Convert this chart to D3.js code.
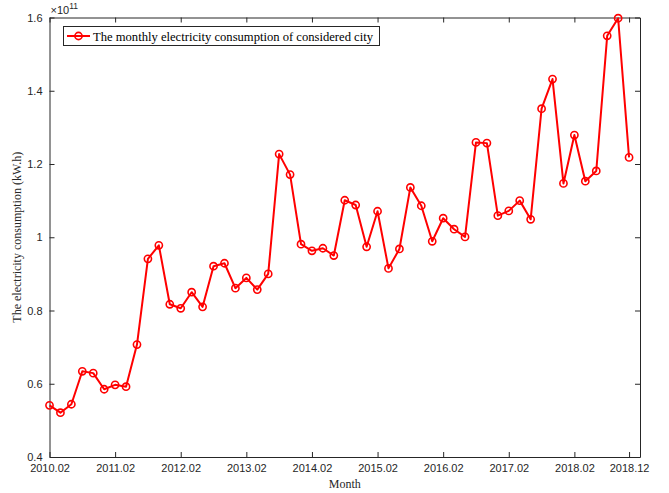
<!DOCTYPE html>
<html>
<head>
<meta charset="utf-8">
<script src="https://cdn.jsdelivr.net/npm/d3@7"></script>
<style>
  body { margin: 0; background: #fff; }
  svg { display: block; }
</style>
</head>
<body>
<svg id="chart" width="669" height="493"></svg>
<script>
// month index counted from 2010.02, one reading every two months
const months = d3.range(0, 107, 2);
const consumption = [
  0.541, 0.521, 0.544, 0.634, 0.629, 0.585, 0.597, 0.592, 0.707, 0.941,
  0.978, 0.817, 0.806, 0.850, 0.810, 0.921, 0.929, 0.861, 0.889, 0.857,
  0.900, 1.227, 1.171, 0.981, 0.963, 0.970, 0.950, 1.101, 1.088, 0.974,
  1.071, 0.915, 0.968, 1.136, 1.086, 0.989, 1.052, 1.022, 1.001, 1.259,
  1.257, 1.059, 1.072, 1.100, 1.049, 1.351, 1.432, 1.147, 1.279, 1.153,
  1.181, 1.550, 1.598, 1.218
]; // x 1e11 kW.h
const xTickMonths = [0, 12, 24, 36, 48, 60, 72, 84, 96, 106];
const xTickLabels = ["2010.02", "2011.02", "2012.02", "2013.02", "2014.02",
                     "2015.02", "2016.02", "2017.02", "2018.02", "2018.12"];
const yTicks = [0.4, 0.6, 0.8, 1.0, 1.2, 1.4, 1.6];

const data = months.map((m, i) => ({month: m, value: consumption[i]}));

const chart = d3.select("#chart");
const margin = {left: 49.5, right: 29, top: 17.5, bottom: 36};
const width = 669, height = 493;
const axisColor = "#262626";

const x = d3.scaleLinear().domain([0, 108]).range([margin.left, width - margin.right]);
const y = d3.scaleLinear().domain([0.4, 1.6]).range([height - margin.bottom, margin.top]);

const tickFmt = (d) => d === 1 ? "1" : d3.format(".1f")(d);

// bottom axis
const xAxis = d3.axisBottom(x).tickValues(xTickMonths)
  .tickFormat((d, i) => xTickLabels[i]).tickSizeInner(-5).tickSizeOuter(0).tickPadding(7);
const gx = chart.append("g")
  .attr("transform", `translate(0,${y.range()[0]})`)
  .call(xAxis);

// top ticks
const gxTop = chart.append("g")
  .attr("transform", `translate(0,${y.range()[1]})`)
  .call(d3.axisTop(x).tickValues(xTickMonths).tickFormat("").tickSizeInner(-5).tickSizeOuter(0));

// left axis
const gy = chart.append("g")
  .attr("transform", `translate(${x.range()[0]},0)`)
  .call(d3.axisLeft(y).tickValues(yTicks).tickFormat(tickFmt).tickSizeInner(-5).tickSizeOuter(0).tickPadding(7));

// right ticks
const gyRight = chart.append("g")
  .attr("transform", `translate(${x.range()[1]},0)`)
  .call(d3.axisRight(y).tickValues(yTicks).tickFormat("").tickSizeInner(-5).tickSizeOuter(0));

[gx, gxTop, gy, gyRight].forEach(g => {
  g.select(".domain").attr("stroke", axisColor).attr("stroke-width", 1);
  g.selectAll(".tick line").attr("stroke", axisColor);
  g.selectAll(".tick text")
    .attr("fill", axisColor)
    .style("font-family", "Liberation Sans, Arial, sans-serif")
    .style("font-size", "11px");
});

// exponent label
const expo = chart.append("text")
  .attr("x", margin.left + 1)
  .attr("y", 14)
  .attr("fill", axisColor)
  .style("font-family", "Liberation Sans, Arial, sans-serif")
  .style("font-size", "11px");
expo.append("tspan").text("\u00d710");
expo.append("tspan").attr("dy", -5).style("font-size", "8.5px").text("11");

// series line
const line = d3.line().x(d => x(d.month)).y(d => y(d.value));
chart.append("path")
  .datum(data)
  .attr("fill", "none")
  .attr("stroke", "#ff0000")
  .attr("stroke-width", 2)
  .attr("stroke-linejoin", "round")
  .attr("d", line);

chart.append("g").selectAll("circle")
  .data(data)
  .enter()
  .append("circle")
    .attr("cx", d => x(d.month))
    .attr("cy", d => y(d.value))
    .attr("r", 3.6)
    .attr("fill", "none")
    .attr("stroke", "#ff0000")
    .attr("stroke-width", 1.6);

// axis titles
chart.append("text")
  .attr("x", (x.range()[0] + x.range()[1]) / 2)
  .attr("y", 488)
  .attr("text-anchor", "middle")
  .attr("fill", axisColor)
  .style("font-family", "Liberation Serif, Times New Roman, serif")
  .style("font-size", "12px")
  .text("Month");

chart.append("text")
  .attr("transform", "rotate(-90)")
  .attr("x", -(y.range()[0] + y.range()[1]) / 2)
  .attr("y", 21)
  .attr("text-anchor", "middle")
  .attr("fill", axisColor)
  .style("font-family", "Liberation Serif, Times New Roman, serif")
  .style("font-size", "12px")
  .text("The electricity consumption (kW.h)");

// legend
const legend = chart.append("g");
legend.append("rect")
  .attr("x", 63.5).attr("y", 26.5)
  .attr("width", 316).attr("height", 19)
  .attr("fill", "#fff")
  .attr("stroke", axisColor)
  .attr("stroke-width", 1);
legend.append("line")
  .attr("x1", 67).attr("x2", 90)
  .attr("y1", 36).attr("y2", 36)
  .attr("stroke", "#ff0000").attr("stroke-width", 2);
legend.append("circle")
  .attr("cx", 78.5).attr("cy", 36).attr("r", 3.6)
  .attr("fill", "none").attr("stroke", "#ff0000").attr("stroke-width", 1.6);
legend.append("text")
  .attr("x", 93).attr("y", 40.5)
  .attr("fill", "#000")
  .attr("textLength", 280)
  .attr("lengthAdjust", "spacingAndGlyphs")
  .style("font-family", "Liberation Serif, Times New Roman, serif")
  .style("font-size", "13px")
  .text("The monthly electricity consumption of considered city");
</script>
</body>
</html>
